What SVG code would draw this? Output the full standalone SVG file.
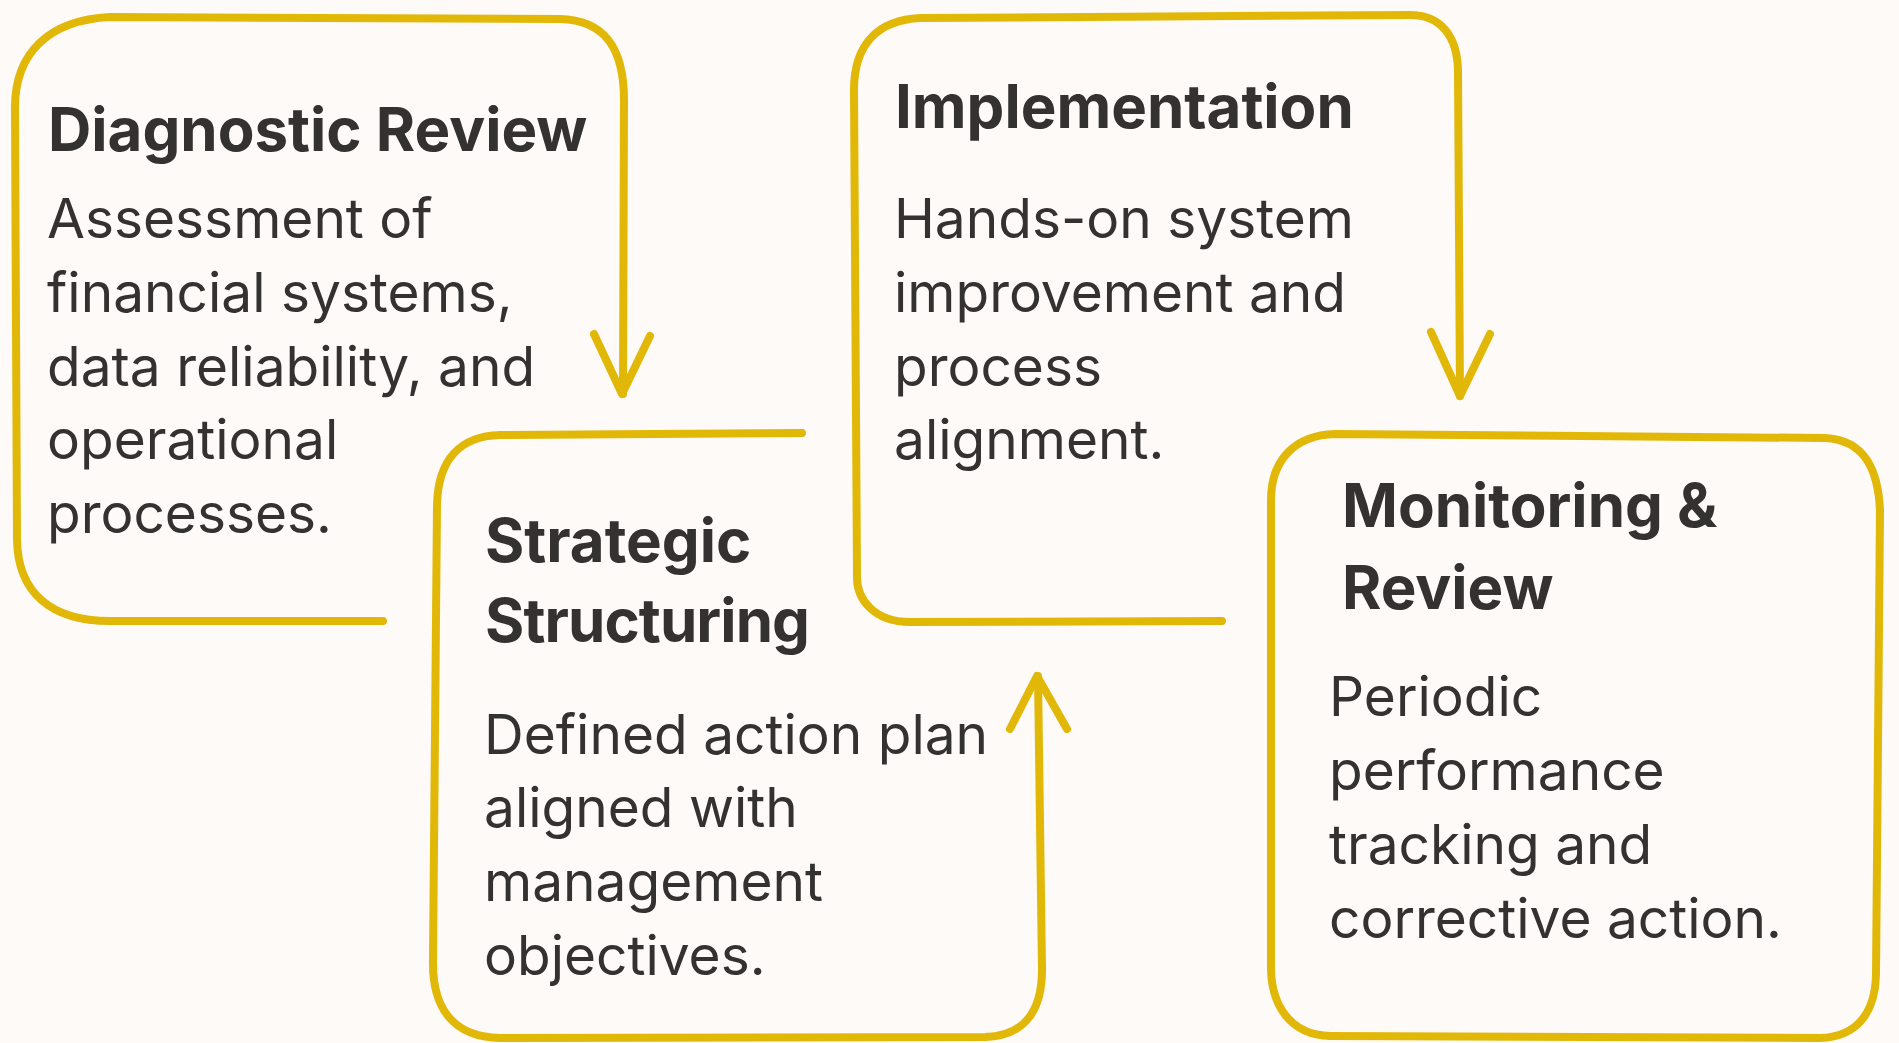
<svg xmlns="http://www.w3.org/2000/svg" width="1899" height="1043" viewBox="0 0 1899 1043">
<style>
.bg{fill:#FDFAF8}
.ln{fill:none;stroke:#E2B808;stroke-width:8;stroke-linecap:round;stroke-linejoin:round}
.t{font-family:Inter,"Liberation Sans",sans-serif;font-weight:700;font-size:60px;fill:#333230}
.b{font-family:Inter,"Liberation Sans",sans-serif;font-weight:400;font-size:55px;fill:#333230}
</style>
<rect class="bg" x="0" y="0" width="1899" height="1043"/>
<g id="diagnostic-review">
<path class="ln" d="M 383 621 L 110 621 C 50 621 18 592 17 540 L 15 110 C 14 52 50 20 110 17 L 560 19 C 606 20 624 50 624 100 L 623 394"/>
<text class="t" x="48" y="151">Diagnostic Review</text>
<text class="b" x="47" y="238">Assessment of</text>
<text class="b" x="47" y="312">financial systems,</text>
<text class="b" x="47" y="386">data reliability, and</text>
<text class="b" x="47" y="459">operational</text>
<text class="b" x="47" y="533">processes.</text>
</g>
<g id="strategic-structuring">
<path class="ln" d="M 802 433 L 500 435 C 460 436 438 460 437 505 L 433 960 C 432 1010 455 1037 500 1038 L 985 1037 C 1025 1036 1042 1010 1042 970 L 1038 676"/>
<text class="t" x="485" y="562">Strategic</text>
<text class="t" x="485" y="642" textLength="325">Structuring</text>
<text class="b" x="484" y="754">Defined action plan</text>
<text class="b" x="484" y="827">aligned with</text>
<text class="b" x="484" y="901">management</text>
<text class="b" x="484" y="975">objectives.</text>
</g>
<g id="implementation">
<path class="ln" d="M 1222 621 L 910 622 C 875 622 856 600 857 575 L 854 90 C 854 42 880 20 920 18 L 1410 15 C 1440 15 1457 35 1458 70 L 1460 396"/>
<text class="t" x="895" y="128">Implementation</text>
<text class="b" x="894" y="238">Hands-on system</text>
<text class="b" x="894" y="312">improvement and</text>
<text class="b" x="894" y="386">process</text>
<text class="b" x="894" y="459">alignment.</text>
</g>
<g id="monitoring-review">
<path class="ln" d="M 1335 434 L 1825 438 C 1865 440 1878 470 1880 510 L 1876 975 C 1875 1015 1855 1037 1820 1038 L 1330 1036 C 1290 1035 1272 1005 1271 970 L 1271 500 C 1271 460 1295 435 1335 434 Z"/>
<text class="t" x="1342" y="527">Monitoring &amp;</text>
<text class="t" x="1342" y="609">Review</text>
<text class="b" x="1329" y="716">Periodic</text>
<text class="b" x="1329" y="790">performance</text>
<text class="b" x="1329" y="864">tracking and</text>
<text class="b" x="1329" y="938">corrective action.</text>
</g>
<g id="connectors">
<path class="ln" d="M 594 334 L 622 394 L 650 336"/>
<path class="ln" d="M 1010 729 L 1037 676 L 1067 729"/>
<path class="ln" d="M 1431 332 L 1460 396 L 1490 334"/>
</g>
</svg>
